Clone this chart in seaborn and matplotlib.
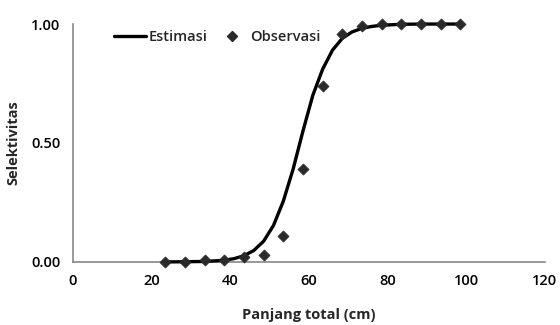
import matplotlib
matplotlib.use("Agg")
import matplotlib.pyplot as plt
import seaborn as sns
import pandas as pd
from matplotlib.lines import Line2D

# Observed selectivity
obs_x = [23.5, 28.5, 33.5, 38.5, 43.5, 48.5, 53.5, 58.5, 63.5, 68.5, 73.5, 78.5, 83.5, 88.5, 93.5, 98.5]
obs_y = [0.00, 0.00, 0.01, 0.01, 0.02, 0.03, 0.11, 0.39, 0.74, 0.96, 0.99, 1.00, 1.00, 1.00, 1.00, 1.00]

# Estimated curve
est_x = [23.5, 28.5, 33.5, 38.5, 41, 43.5, 46, 48.5, 51, 53.5, 56, 58.5, 61, 63.5, 66, 68.5, 71, 73.5, 76, 78.5, 83.5, 88.5, 93.5, 98.5]
est_y = [0.000, 0.001, 0.002, 0.007, 0.014, 0.026, 0.048, 0.087, 0.153, 0.255, 0.39, 0.55, 0.70, 0.81, 0.89, 0.94, 0.967, 0.982, 0.99, 0.995, 0.999, 1.0, 1.0, 1.0]

x_ticks = [0, 20, 40, 60, 80, 100, 120]
y_ticks = [0.0, 0.5, 1.0]
y_ticklabels = ["0.00", "0.50", "1.00"]

sns.set_style("white")
plt.rcParams['font.family'] = ['Open Sans', 'DejaVu Sans']

fig = plt.figure(figsize=(5.6, 3.25), dpi=100)
ax = fig.add_axes([0.130, 0.194, 0.843, 0.732])

est = pd.DataFrame({"x": est_x, "y": est_y})
obs = pd.DataFrame({"x": obs_x, "y": obs_y})

sns.lineplot(data=est, x="x", y="y", ax=ax, color="black", linewidth=2.4, zorder=3, clip_on=False)
sns.scatterplot(data=obs, x="x", y="y", ax=ax, marker="D", s=32, color="#2a2a2a",
                edgecolor="#2a2a2a", linewidth=0.5, zorder=4, clip_on=False)

ax.set_xlim(0, 120)
ax.set_ylim(0, 1)
ax.set_xticks(x_ticks)
ax.set_yticks(y_ticks)
ax.set_yticklabels(y_ticklabels)
ax.tick_params(axis="both", direction="out", length=4, width=1, color="#888888",
               labelsize=10.5, labelcolor="black", pad=5)
for lab in ax.get_xticklabels() + ax.get_yticklabels():
    lab.set_fontweight("semibold")

for s in ["top", "right"]:
    ax.spines[s].set_visible(False)
for s in ["left", "bottom"]:
    ax.spines[s].set_color("#888888")
    ax.spines[s].set_linewidth(1.2)

ax.set_xlabel("Panjang total (cm)", fontsize=10.5, fontweight="bold", labelpad=14)
ax.set_ylabel("Selektivitas", fontsize=10.5, fontweight="bold", labelpad=8)

handles = [Line2D([0], [0], color="black", linewidth=2.4),
           Line2D([0], [0], marker="D", linestyle="none", color="#2a2a2a", markersize=5)]
leg = ax.legend(handles, ["Estimasi", "Observasi"], loc="upper left", bbox_to_anchor=(0.06, 1.03),
                ncol=2, frameon=False, fontsize=10.5, handlelength=2.2, handletextpad=0.15,
                columnspacing=0.6)
for t in leg.get_texts():
    t.set_fontweight("semibold")

fig.savefig("out.png", dpi=100)
